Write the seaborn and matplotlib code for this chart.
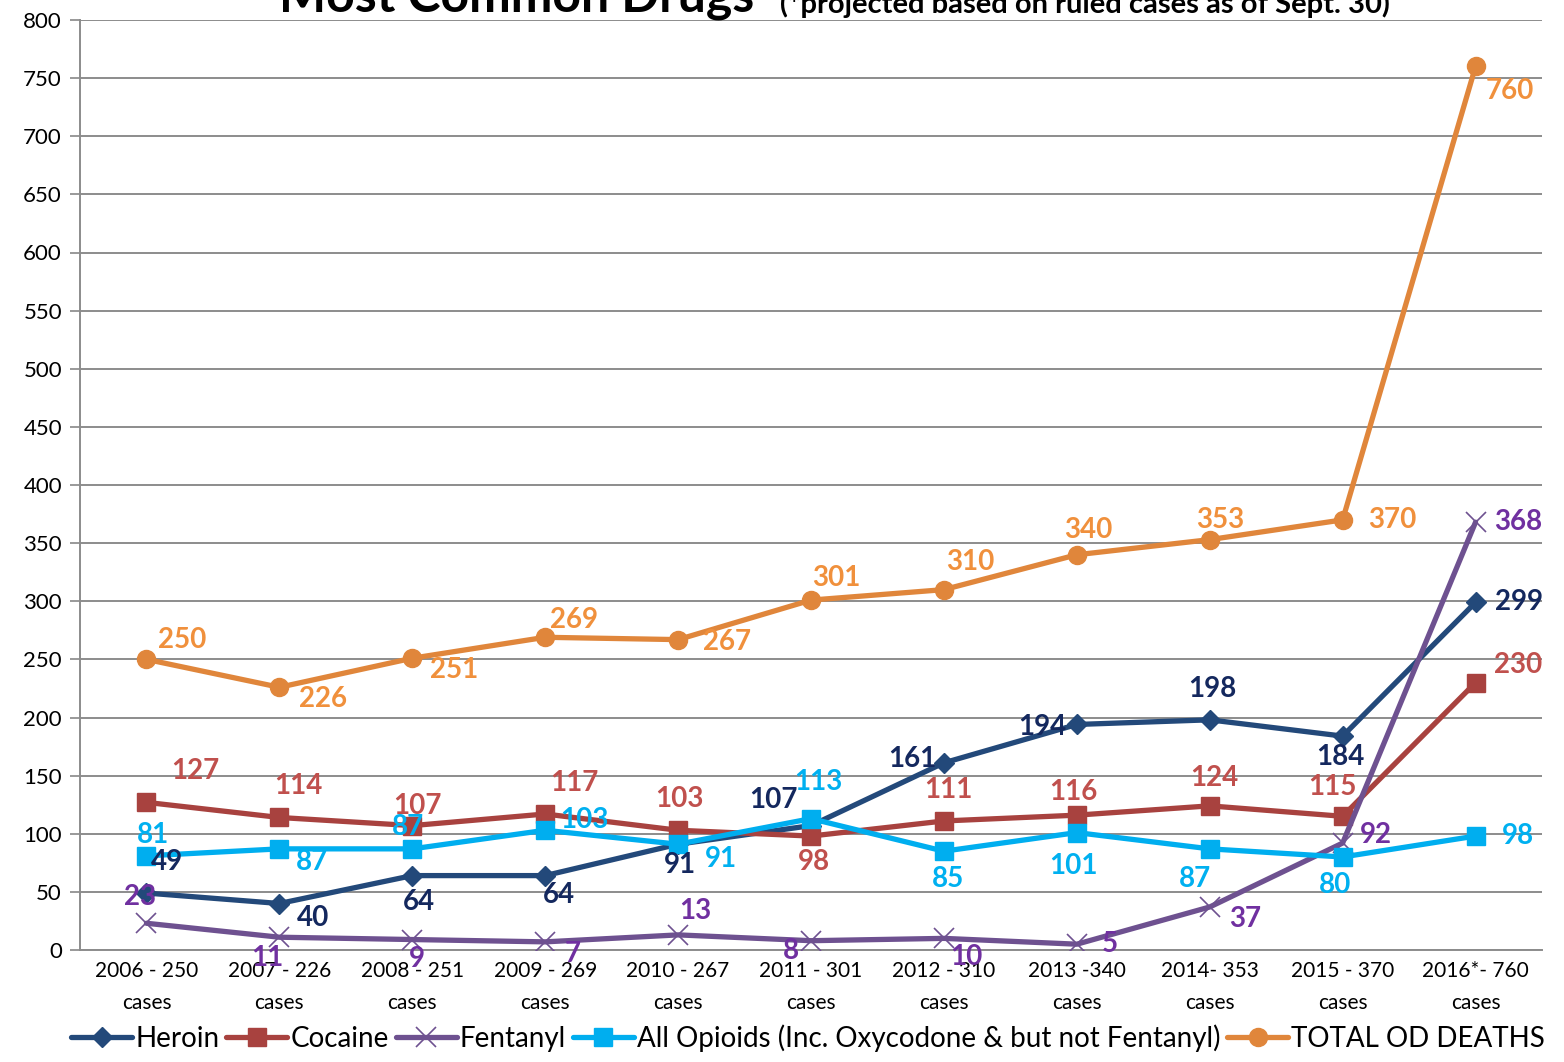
import matplotlib
matplotlib.use("Agg")
import matplotlib.pyplot as plt
import seaborn as sns
import pandas as pd
import numpy as np

categories = ["2006 - 250\ncases", "2007 - 226\ncases", "2008 - 251\ncases", "2009 - 269\ncases",
              "2010 - 267\ncases", "2011 - 301\ncases", "2012 - 310\ncases", "2013 -340\ncases",
              "2014- 353\ncases", "2015 - 370\ncases", "2016*- 760\ncases"]
heroin = [49, 40, 64, 64, 91, 107, 161, 194, 198, 184, 299]
cocaine = [127, 114, 107, 117, 103, 98, 111, 116, 124, 115, 230]
fentanyl = [23, 11, 9, 7, 13, 8, 10, 5, 37, 92, 368]
opioids = [81, 87, 87, 103, 91, 113, 85, 101, 87, 80, 98]
total = [250, 226, 251, 269, 267, 301, 310, 340, 353, 370, 760]
series_names = ["Heroin", "Cocaine", "Fentanyl",
                "All Opioids (Inc. Oxycodone & but not Fentanyl)", "TOTAL OD DEATHS"]

sns.set_theme(style="white")
plt.rcParams['font.family'] = ['Lato', 'DejaVu Sans']

W, H = 1564, 1062
fig = plt.figure(figsize=(W / 100, H / 100), dpi=100)
ax = fig.add_axes([80 / W, 1 - 950 / H, 1462 / W, 930 / H])

x = np.arange(len(categories))
styles = [
    dict(data=heroin, color="#23497A", marker="D", ms=10, lab="#14285E", mew=1),
    dict(data=cocaine, color="#A8423F", marker="s", ms=13, lab="#C0504D", mew=1),
    dict(data=fentanyl, color="#6E5190", marker="x", ms=14, lab="#7030A0", mew=1.2),
    dict(data=opioids, color="#00AEEF", marker="s", ms=13, lab="#00B0F0", mew=1),
    dict(data=total, color="#E0863B", marker="o", ms=13, lab="#F0903C", mew=1),
]
# label offsets in pixels (dx, dy with dy positive = down)
offsets = [
    [(20, -31), (34, 15), (7, 26), (14, 19), (2, 21), (-38, -26), (-32, -4), (-35, 3), (3, -31), (-2, 21), (43, 0)],
    [(49, -31), (19, -31), (5, -20), (29, -31), (1, -31), (3, 26), (4, -31), (-4, -23), (5, -28), (-10, -29), (43, -18)],
    [(-6, -26), (-12, 21), (5, 19), (28, 12), (17, -24), (-20, 10), (22, 19), (33, 0), (35, 12), (33, -8), (43, 0)],
    [(7, -21), (33, 13), (-4, -22), (39, -10), (43, 15), (7, -37), (4, 28), (-3, 33), (-15, 30), (-8, 28), (42, 0)],
    [(36, -19), (44, 12), (42, 12), (29, -17), (49, 2), (25, -22), (26, -28), (12, -25), (10, -20), (50, 0), (34, 25)],
]

for name, st, offs in zip(series_names, styles, offsets):
    df = pd.DataFrame({"x": x, "y": st["data"]})
    sns.lineplot(data=df, x="x", y="y", ax=ax, color=st["color"], lw=3.8,
                 marker=st["marker"], markersize=st["ms"], markeredgecolor=st["color"],
                 markeredgewidth=st["mew"], label=name, zorder=3)
    for xi, yi, (dx, dy) in zip(x, st["data"], offs):
        ax.annotate(str(yi), (xi, yi), xytext=(dx * 0.72, -dy * 0.72), textcoords="offset points",
                    ha="center", va="center", fontsize=20, fontweight="bold", color=st["lab"], zorder=5)

ax.set_xlim(-0.5, len(categories) - 0.5)
ax.set_ylim(0, 800)
ax.set_yticks(np.arange(0, 801, 50))
ax.set_xticks(x)
ax.set_xticklabels(categories, fontsize=15, linespacing=1.75, color="black")
ax.set_xticks(np.arange(-0.5, len(categories), 1), minor=True)
ax.tick_params(axis="x", which="major", length=0, pad=8)
ax.tick_params(axis="x", which="minor", length=8, width=1.2, color="#888888", direction="out")
ax.tick_params(axis="y", length=7, width=1.2, color="#888888", labelsize=16, pad=6, left=True,
               labelcolor="black")
ax.set_xlabel("")
ax.set_ylabel("")
ax.grid(axis="y", color="#8c8c8c", lw=1.4)
ax.set_axisbelow(True)
for s in ["top", "right"]:
    ax.spines[s].set_visible(False)
for s in ["left", "bottom"]:
    ax.spines[s].set_color("#8c8c8c")
    ax.spines[s].set_linewidth(1.4)

leg = ax.legend(loc="center", bbox_to_anchor=(808 / W, 24 / H), bbox_transform=fig.transFigure,
                ncol=5, frameon=False, fontsize=20, handlelength=2.2, handletextpad=0.1,
                columnspacing=0.25, borderaxespad=0)
for t in leg.get_texts():
    t.set_color("black")

fig.text(517 / W, 1 - 12 / H, "Most Common Drugs", ha="center", va="baseline",
         fontsize=36, fontweight="bold", color="black")
fig.text(1085 / W, 1 - 13 / H, "(*projected based on ruled cases as of Sept. 30)", ha="center",
         va="baseline", fontsize=21, fontweight="bold", color="black")

fig.savefig("out.png", dpi=100)
